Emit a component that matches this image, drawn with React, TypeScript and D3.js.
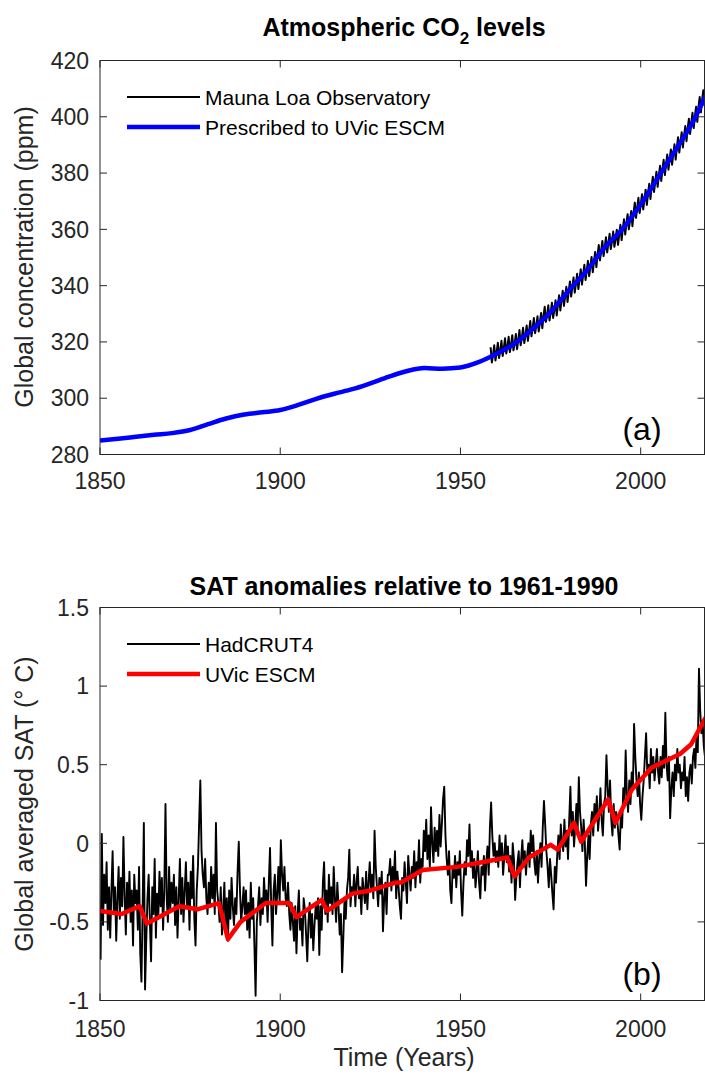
import * as d3 from "d3";

const W = 705;
const H = 1077;
const AXIS = "#262626";
const FONT = "'Liberation Sans', Arial, Helvetica, sans-serif";

// x ticks shared by both panels
const xTicks = [1850, 1900, 1950, 2000];
const co2Ticks = [280, 300, 320, 340, 360, 380, 400, 420];
const satTicks = [-1, -0.5, 0, 0.5, 1, 1.5];
const satTickLabels = ["-1", "-0.5", "0", "0.5", "1", "1.5"];

// CO2 prescribed to UVic ESCM (ppm)
const co2Years = [
  1850, 1855, 1860, 1865, 1870, 1875, 1880, 1885, 1890, 1895, 1900, 1905,
  1910, 1915, 1920, 1925, 1930, 1935, 1940, 1945, 1950, 1955, 1960, 1965,
  1970, 1975, 1980, 1985, 1990, 1995, 2000, 2005, 2010, 2015, 2018,
];
const co2Prescribed = [
  285.0, 285.6, 286.3, 287.0, 287.6, 288.7, 290.8, 292.8, 294.2, 295.0,
  295.8, 297.6, 299.8, 301.6, 303.2, 305.3, 307.6, 309.6, 310.7, 310.5,
  310.9, 312.8, 315.8, 319.4, 324.6, 330.6, 338.2, 345.3, 353.5, 360.2,
  368.8, 378.8, 388.8, 399.4, 407.5,
];

// Mauna Loa, every 4 months (May, Sep, Jan) from May 1958
const mloStart = 1958.37;
const maunaLoa = [
  318.1, 312.7, 315.4, 318.8, 313.4, 316.3, 319.7, 314.3, 317.0, 320.4, 315.0, 317.9,
  321.3, 315.9, 318.4, 321.8, 316.4, 319.0, 322.4, 317.0, 319.4, 322.8, 317.4, 320.8,
  324.2, 318.8, 321.6, 325.0, 319.6, 322.4, 325.8, 320.4, 324.0, 327.4, 322.0, 325.1,
  328.5, 323.1, 325.7, 329.1, 323.7, 326.9, 330.3, 324.9, 329.1, 332.5, 327.1, 329.6,
  333.0, 327.6, 330.5, 333.9, 328.5, 331.4, 334.8, 329.4, 333.2, 336.6, 331.2, 334.8,
  338.2, 332.8, 336.2, 339.6, 334.2, 338.1, 341.5, 336.1, 339.5, 342.9, 337.5, 340.8,
  344.2, 338.8, 342.4, 345.8, 340.4, 344.0, 347.4, 342.0, 345.4, 348.8, 343.4, 346.8,
  350.2, 344.8, 348.6, 352.0, 346.6, 351.0, 354.4, 349.0, 352.5, 355.9, 350.5, 353.8,
  357.2, 351.8, 355.0, 358.4, 353.0, 355.8, 359.2, 353.8, 356.5, 359.9, 354.5, 358.2,
  361.6, 356.2, 360.2, 363.6, 358.2, 362.0, 365.4, 360.0, 363.1, 366.5, 361.1, 366.1,
  369.5, 364.1, 367.8, 371.2, 365.8, 369.1, 372.5, 367.1, 370.7, 374.1, 368.7, 372.8,
  376.2, 370.8, 375.3, 378.7, 373.3, 377.1, 380.5, 375.1, 379.2, 382.6, 377.2, 381.3,
  384.7, 379.3, 383.2, 386.6, 381.2, 385.0, 388.4, 383.0, 386.8, 390.2, 384.8, 389.3,
  392.7, 387.3, 391.1, 394.5, 389.1, 393.3, 396.7, 391.3, 395.9, 399.3, 393.9, 398.0,
  401.4, 396.0, 400.2, 403.6, 398.2, 403.6, 407.0, 401.6, 406.0, 409.4, 404.0, 408.1,
  411.5,
];

// HadCRUT4 anomalies, 3 values per year, in 0.01 °C
const had1850s = [-74, 6, -52, -20, -38, -12, -55, -28, -60, -30, -5, -45, -28, -62, -35, -15, -48, -22, -40, 4, -33, -58, -25, -42, -18, -50, -30, -65, -20, -38];
const had1860s = [-30, -55, -15, -70, -88, -40, 13, -93, -62, -35, -20, -50, -75, -28, -45, -10, -60, -32, -48, -18, -40, -22, -55, -30, 25, -35, -50, -15, -42, -25];
const had1870s = [-38, -20, -52, -28, -60, -35, -10, -45, -22, -50, -30, -12, -40, -25, -55, -18, -35, -8, -48, -65, -30, -15, 13, 40, -5, -20, -28, -10, -35, -45];
const had1880s = [-25, -40, -15, -35, -20, -45, 13, -30, -38, -50, -28, -58, -42, -25, -55, -35, -62, -30, -48, -22, -40, -52, -35, -45, -18, 1, -30, -50, -40, -28];
const had1890s = [-45, -30, -55, -38, -60, -25, -48, -35, -65, -97, -50, -40, -28, -52, -35, -45, -22, -38, -30, -50, -25, -3, -40, -65, -30, -20, -45, -32, -15, -38];
const had1900s = [2, -20, -30, -15, -35, -40, -25, -45, -55, -38, -50, -62, -40, -70, -45, -30, -55, -48, -65, -35, -42, -58, -75, -50, -38, -60, -45, -68, -52, -40];
const had1910s = [-48, -35, -71, -40, -55, -25, -12, -45, -30, -50, -20, -38, -28, -45, -15, -35, -50, -25, -40, -58, -45, -82, -60, -35, -48, -30, -22, -4, -40, -28];
const had1920s = [-32, -20, -40, -25, -15, -35, -28, -45, -22, -30, -38, -18, -42, -25, -12, -30, -20, -35, 8, -15, -28, -40, -22, -32, -18, -56, -35, -25, -45, -20];
const had1930s = [-20, -10, -30, -15, -25, -5, -35, -18, -28, -40, -48, -22, -30, -12, -25, -38, -8, -20, -30, -15, -22, -5, -28, -12, -18, 2, -25, -10, -15, 8];
const had1940s = [-5, 15, -10, 5, -15, 23, 0, -12, 10, -5, 8, -8, 18, -2, 12, 28, 36, 5, -10, -20, -5, -30, -38, -15, -22, -8, -28, -12, -20, -5];
const had1950s = [-30, -46, -25, -12, -20, 2, -8, 12, -15, -5, -22, -10, -28, -18, -5, -25, -35, -15, -20, -8, -30, -12, -2, -20, 10, 26, 5, -8, 0, -12];
const had1960s = [-5, -15, 5, -10, 0, -20, -8, 5, -12, -2, -18, -8, -25, 0, -10, -36, -22, -12, -5, -28, -10, 2, -15, -5, -20, -8, 0, -15, 8, -5];
const had1970s = [5, -12, -20, -5, -25, -10, 0, -15, 10, 27, 12, -5, -15, -28, -10, -20, -32, -42, -15, -25, -8, 5, -10, 12, 0, -5, 15, -2, 8, -10];
const had1980s = [15, 36, 5, 20, -2, 10, 25, 8, 42, 20, 10, -5, 15, 0, -27, -8, 5, -10, 12, 20, 5, 25, 15, 30, 8, 18, 35, 15, 5, 25];
const had1990s = [30, 56, 35, 20, 40, 15, 5, 25, 10, 20, 15, 5, -4, 20, 10, 35, 25, 59, 30, 20, 40, 25, 45, 35, 76, 55, 40, 30, 45, 25];
const had2000s = [15, 30, 40, 55, 70, 45, 50, 35, 60, 45, 55, 40, 50, 60, 45, 38, 55, 42, 62, 48, 83, 50, 40, 55, 16, 35, 45, 30, 50, 40];
const had2010s = [60, 45, 50, 35, 45, 40, 55, 30, 42, 27, 45, 50, 38, 55, 60, 48, 70, 58, 111, 85, 70, 78, 62, 55, 60, 58, 55];

const hadDecades: [number, number[]][] = [
  [1850, had1850s], [1860, had1860s], [1870, had1870s], [1880, had1880s],
  [1890, had1890s], [1900, had1900s], [1910, had1910s], [1920, had1920s],
  [1930, had1930s], [1940, had1940s], [1950, had1950s], [1960, had1960s],
  [1970, had1970s], [1980, had1980s], [1990, had1990s], [2000, had2000s],
  [2010, had2010s],
];

// UVic ESCM simulated SAT anomaly
const uvicYears = [
  1850, 1856, 1861, 1863, 1872, 1877, 1883, 1885.5, 1889, 1896, 1902.5, 1904.5,
  1911.5, 1913, 1920, 1925, 1932, 1933.5, 1939.5, 1949, 1956, 1963, 1965, 1969,
  1975, 1977, 1981.5, 1983.5, 1991, 1993, 1997.5, 2003, 2011, 2014, 2018,
];
const uvicSat = [
  -0.43, -0.45, -0.4, -0.51, -0.4, -0.42, -0.38, -0.61, -0.5, -0.38, -0.38, -0.47,
  -0.36, -0.43, -0.32, -0.3, -0.25, -0.25, -0.17, -0.15, -0.12, -0.09, -0.21, -0.09,
  -0.01, -0.04, 0.13, 0.01, 0.28, 0.13, 0.34, 0.48, 0.57, 0.63, 0.8,
];

const x = d3.scaleLinear().domain([1850, 2017.7]).range([100, 704.5]);
const yCo2 = d3.scaleLinear().domain([280, 420]).range([454.5, 60.5]);
const ySat = d3.scaleLinear().domain([-1, 1.5]).range([1000.5, 607.5]);

const TICK = 7;

function Frame({
  y,
  ticks,
  labels,
  xLabelY,
}: {
  y: d3.ScaleLinear<number, number>;
  ticks: number[];
  labels: string[];
  xLabelY: number;
}) {
  const [x0, x1] = x.range();
  const [yb, yt] = y.range();
  return (
    <g>
      <rect x={x0} y={yt} width={x1 - x0} height={yb - yt} fill="none" stroke={AXIS} strokeWidth={1} />
      {xTicks.map((t) => (
        <g key={t}>
          <line x1={x(t)} x2={x(t)} y1={yb} y2={yb - TICK} stroke={AXIS} />
          <line x1={x(t)} x2={x(t)} y1={yt} y2={yt + TICK} stroke={AXIS} />
          <text x={x(t)} y={xLabelY} textAnchor="middle" fontSize={23} fill={AXIS}>
            {t}
          </text>
        </g>
      ))}
      {ticks.map((t, i) => (
        <g key={t}>
          <line x1={x0} x2={x0 + TICK} y1={y(t)} y2={y(t)} stroke={AXIS} />
          <line x1={x1} x2={x1 - TICK} y1={y(t)} y2={y(t)} stroke={AXIS} />
          <text x={x0 - 11} y={y(t)} dy="0.36em" textAnchor="end" fontSize={23} fill={AXIS}>
            {labels[i]}
          </text>
        </g>
      ))}
    </g>
  );
}

export default function App() {
  const co2Line = d3
    .line<number>()
    .x((_, i) => x(co2Years[i]))
    .y((d) => yCo2(d))
    .curve(d3.curveMonotoneX);
  const mloLine = d3
    .line<number>()
    .x((_, i) => x(mloStart + i / 3))
    .y((d) => yCo2(d));
  const hadPoints = hadDecades.flatMap(([start, vals]) =>
    vals.map((v, i) => [start + (i + 0.5) / 3, v / 100] as [number, number])
  );
  const hadLine = d3
    .line<[number, number]>()
    .x((d) => x(d[0]))
    .y((d) => ySat(d[1]));
  const uvicLine = d3
    .line<number>()
    .x((_, i) => x(uvicYears[i]))
    .y((d) => ySat(d));

  const [x0, x1] = x.range();

  return (
    <svg
      width={W}
      height={H}
      style={{ position: "absolute", left: 0, top: 0, background: "#fff" }}
      fontFamily={FONT}
    >
      <defs>
        <clipPath id="clipTop">
          <rect x={x0} y={yCo2.range()[1]} width={x1 - x0} height={yCo2.range()[0] - yCo2.range()[1]} />
        </clipPath>
        <clipPath id="clipBottom">
          <rect x={x0} y={ySat.range()[1]} width={x1 - x0} height={ySat.range()[0] - ySat.range()[1]} />
        </clipPath>
      </defs>

      {/* panel (a) */}
      <text x={404} y={35.5} textAnchor="middle" fontSize={25} fontWeight="bold" fill="#000">
        Atmospheric CO
        <tspan fontSize={17} dy={8}>2</tspan>
        <tspan dy={-8}> levels</tspan>
      </text>
      <g clipPath="url(#clipTop)">
        <path d={mloLine(maunaLoa) ?? ""} fill="none" stroke="#000" strokeWidth={2} strokeLinejoin="round" />
        <path d={co2Line(co2Prescribed) ?? ""} fill="none" stroke="#0000ff" strokeWidth={4.5} />
      </g>
      <Frame y={yCo2} ticks={co2Ticks} labels={co2Ticks.map(String)} xLabelY={489} />
      <text transform="translate(33,257) rotate(-90)" textAnchor="middle" fontSize={25} fill={AXIS}>
        Global concentration (ppm)
      </text>
      <g fontSize={21} fill="#000">
        <line x1={127} x2={200} y1={97} y2={97} stroke="#000" strokeWidth={2} />
        <text x={205} y={97} dy="0.36em">Mauna Loa Observatory</text>
        <line x1={127} x2={200} y1={127} y2={127} stroke="#0000ff" strokeWidth={4.5} />
        <text x={205} y={127} dy="0.36em">Prescribed to UVic ESCM</text>
      </g>
      <text x={642} y={440} textAnchor="middle" fontSize={32} fill="#000">
        (a)
      </text>

      {/* panel (b) */}
      <text x={404} y={595} textAnchor="middle" fontSize={25} fontWeight="bold" fill="#000">
        SAT anomalies relative to 1961-1990
      </text>
      <g clipPath="url(#clipBottom)">
        <path d={hadLine(hadPoints) ?? ""} fill="none" stroke="#000" strokeWidth={1.9} strokeLinejoin="round" />
        <path d={uvicLine(uvicSat) ?? ""} fill="none" stroke="#ff0000" strokeWidth={4.5} strokeLinejoin="round" />
      </g>
      <Frame y={ySat} ticks={satTicks} labels={satTickLabels} xLabelY={1037} />
      <text transform="translate(33,804) rotate(-90)" textAnchor="middle" fontSize={25} fill={AXIS}>
        Global averaged SAT (° C)
      </text>
      <g fontSize={21} fill="#000">
        <line x1={127} x2={200} y1={644} y2={644} stroke="#000" strokeWidth={2} />
        <text x={205} y={644} dy="0.36em">HadCRUT4</text>
        <line x1={127} x2={200} y1={674} y2={674} stroke="#ff0000" strokeWidth={4.5} />
        <text x={205} y={674} dy="0.36em">UVic ESCM</text>
      </g>
      <text x={642} y={985} textAnchor="middle" fontSize={32} fill="#000">
        (b)
      </text>
      <text x={404} y={1066} textAnchor="middle" fontSize={25} fill={AXIS}>
        Time (Years)
      </text>
    </svg>
  );
}
